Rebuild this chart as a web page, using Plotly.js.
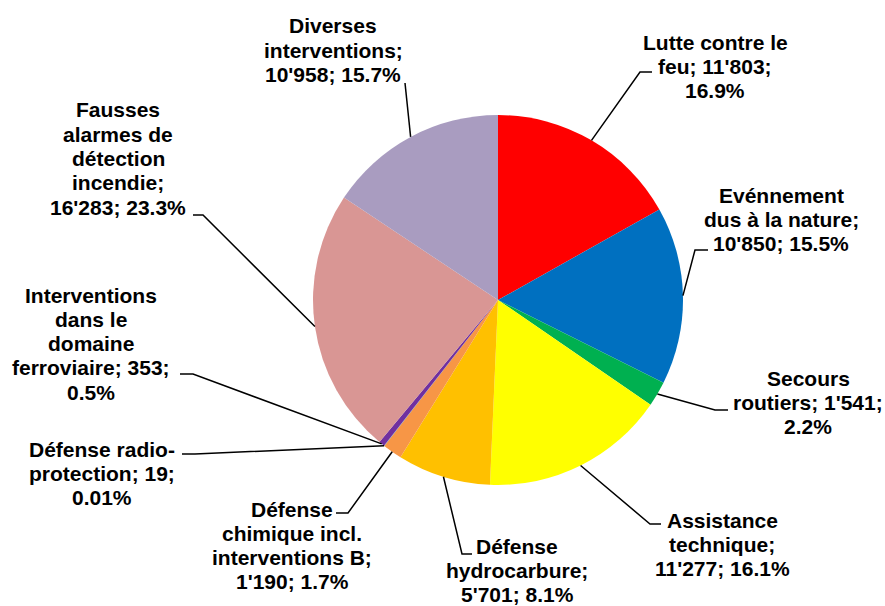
<!DOCTYPE html>
<html><head><meta charset="utf-8">
<script src="https://cdn.plot.ly/plotly-3.0.1.min.js"></script>
<style>html,body{margin:0;padding:0;background:#fff}#chart{width:885px;height:606px}</style>
</head><body><div id="chart"></div>
<script>
// ---- data ----
const categories = [
  "Lutte contre le feu",
  "Evénnement dus à la nature",
  "Secours routiers",
  "Assistance technique",
  "Défense hydrocarbure",
  "Défense chimique incl. interventions B",
  "Défense radio-protection",
  "Interventions dans le domaine ferroviaire",
  "Fausses alarmes de détection incendie",
  "Diverses interventions"
];
const values = [11803, 10850, 1541, 11277, 5701, 1190, 19, 353, 16283, 10958];
const percents = ["16.9%", "15.5%", "2.2%", "16.1%", "8.1%", "1.7%", "0.01%", "0.5%", "23.3%", "15.7%"];
const valueText = ["11'803", "10'850", "1'541", "11'277", "5'701", "1'190", "19", "353", "16'283", "10'958"];
const labelLines = [
  ["Lutte contre le", "feu; 11'803;", "16.9%"],
  ["Evénnement", "dus à la nature;", "10'850; 15.5%"],
  ["Secours", "routiers; 1'541;", "2.2%"],
  ["Assistance", "technique;", "11'277; 16.1%"],
  ["Défense", "hydrocarbure;", "5'701; 8.1%"],
  ["Défense", "chimique incl.", "interventions B;", "1'190; 1.7%"],
  ["Défense radio-", "protection; 19;", "0.01%"],
  ["Interventions", "dans le", "domaine", "ferroviaire; 353;", "0.5%"],
  ["Fausses", "alarmes de", "détection", "incendie;", "16'283; 23.3%"],
  ["Diverses", "interventions;", "10'958; 15.7%"]
];

// ---- styling / layout ----
const colors = ["#FF0000", "#0070C0", "#00B050", "#FFFF00", "#FFC000", "#F79646", "#4BACC6", "#7030A0", "#D99694", "#A99CC0"];
const W = 885, H = 606;
const cx = 498, cy = 300, R = 185;   // pie centre / radius in px
const lineGap = 24.3;
// label block placement (px): centre x, first line centre y, elbow, horizontal end
const labelPos = [
  {x: 715, y0: 42,  elbow: [640, 72],  end: [652, 72]},
  {x: 781, y0: 195, elbow: [695, 250], end: [708, 250]},
  {x: 808, y0: 378, elbow: [715, 410], end: [728, 410]},
  {x: 722, y0: 520, elbow: [650, 524], end: [661, 524]},
  {x: 517, y0: 546, elbow: [462, 554], end: [472, 554]},
  {x: 292, y0: 509, elbow: [348, 513], end: [336, 513]},
  {x: 102, y0: 449, elbow: [195, 454], end: [182, 454]},
  {x: 91,  y0: 295, elbow: [193, 374], end: [180, 374]},
  {x: 118, y0: 110, elbow: [203, 215], end: [193, 215]},
  {x: 333, y0: 26,  elbow: [405, 83],  end: [405, 83]}
];

const px = x => x / W;
const py = y => 1 - y / H;

const total = values.reduce((a, b) => a + b, 0);
const annotations = [];
const shapes = [];
let cum = 0;
values.forEach((v, i) => {
  const a = 2 * Math.PI * (cum + v / 2) / total;
  cum += v;
  const ex = cx + R * Math.sin(a), ey = cy - R * Math.cos(a);
  const p = labelPos[i];
  shapes.push({
    type: "path", xref: "paper", yref: "paper",
    path: `M ${px(ex)},${py(ey)} L ${px(p.elbow[0])},${py(p.elbow[1])} L ${px(p.end[0])},${py(p.end[1])}`,
    line: {color: "#000000", width: 1.5}
  });
  labelLines[i].forEach((t, k) => {
    annotations.push({
      text: t, showarrow: false, xref: "paper", yref: "paper",
      x: px(p.x), y: py(p.y0 + k * lineGap), xanchor: "center", yanchor: "middle",
      font: {family: "Liberation Sans, Arial, sans-serif", size: 21, color: "#000000", weight: 700}
    });
  });
});

const trace = {
  type: "pie",
  labels: categories,
  values: values,
  sort: false,
  direction: "clockwise",
  rotation: 0,
  textinfo: "none",
  hoverinfo: "label+value+percent",
  marker: {colors: colors, line: {width: 0}},
  domain: {x: [px(cx - R), px(cx + R)], y: [py(cy + R), py(cy - R)]},
  showlegend: false
};

Plotly.newPlot("chart", [trace], {
  width: W, height: H,
  margin: {l: 0, r: 0, t: 0, b: 0},
  paper_bgcolor: "#ffffff",
  showlegend: false,
  annotations: annotations,
  shapes: shapes
}, {displayModeBar: false, staticPlot: true});
</script></body></html>
